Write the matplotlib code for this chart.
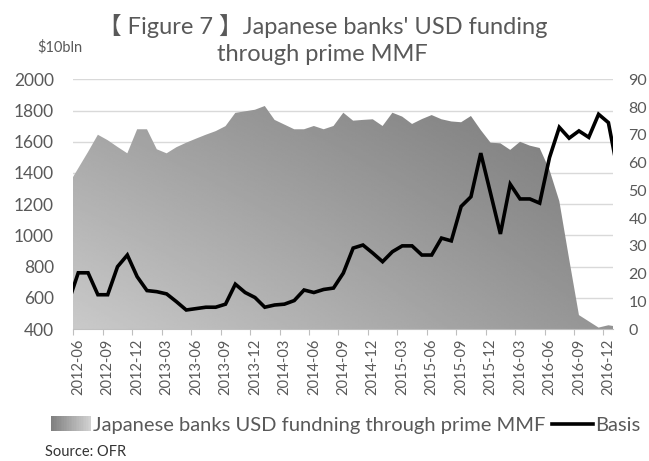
import numpy as np
import matplotlib.pyplot as plt
from matplotlib.legend_handler import HandlerBase
from matplotlib.patches import Rectangle, Patch
from matplotlib.lines import Line2D

plt.rcParams['font.family'] = ['Lato', 'Noto Sans CJK JP', 'DejaVu Sans']

# monthly values, 2012-05 .. 2017-01 (first and last month fall just outside the frame)
funding = [1325, 1430, 1535, 1645, 1610, 1567, 1526, 1680, 1680, 1552, 1526,
           1565, 1594, 1620, 1645, 1668, 1700, 1785, 1795, 1805, 1829, 1740,
           1710, 1680, 1680, 1701, 1680, 1701, 1786, 1735, 1740, 1744, 1701,
           1786, 1761, 1714, 1745, 1771, 1744, 1730, 1725, 1765, 1675, 1594,
           1590, 1548, 1600, 1575, 1560, 1420, 1220, 850, 490, 450, 410,
           425, 415]
basis = [9.7, 20.3, 20.3, 12.4, 12.4, 22.5, 26.7, 18.9, 13.9, 13.5, 12.7,
         9.9, 6.9, 7.4, 7.9, 7.9, 9.0, 16.2, 13.2, 11.4, 7.9, 8.7,
         9.0, 10.3, 14.1, 13.2, 14.3, 14.8, 20.2, 29.2, 30.3, 27.4, 24.3,
         27.9, 30.0, 30.0, 26.7, 26.7, 32.8, 31.8, 44.2, 47.7, 63.4, 48.9,
         34.3, 52.2, 46.9, 46.9, 45.4, 61.8, 72.7, 68.8, 71.4, 69.1, 77.4,
         74.4, 56.0]
tick_labels = ['2012-06', '2012-09', '2012-12', '2013-03', '2013-06', '2013-09',
               '2013-12', '2014-03', '2014-06', '2014-09', '2014-12', '2015-03',
               '2015-06', '2015-09', '2015-12', '2016-03', '2016-06', '2016-09',
               '2016-12']

GREY = '#595959'
x = np.arange(len(funding)) - 0.5   # month centres, category width 1
n_cat = len(funding) - 2

fig = plt.figure(figsize=(6.49, 4.61), dpi=100)
ax = fig.add_axes([0.113, 0.286, 0.832, 0.542])

# area with a grey gradient (light bottom-left, dark right)
poly = ax.fill_between(x, 400, funding, facecolor='none', edgecolor='none', zorder=2)
gx, gy = np.meshgrid(np.linspace(0, 1, 200), np.linspace(0, 1, 200))
shade = 0.79 - 0.21 * gx - 0.17 * gy + 0.05 * gx * gy
img = ax.imshow(shade, cmap='gray', vmin=0, vmax=1, origin='lower',
                extent=[0, n_cat, 400, 2000], aspect='auto', zorder=2,
                interpolation='bilinear')
img.set_clip_path(poly.get_paths()[0], transform=ax.transData)

ax.set_xlim(0, n_cat)
ax.set_ylim(400, 2000)
ax.set_yticks(np.arange(400, 2001, 200))
ax.yaxis.grid(True, color='#d9d9d9', lw=1)
ax.set_axisbelow(True)
for s in ['top', 'right', 'left']:
    ax.spines[s].set_visible(False)
ax.spines['bottom'].set_color('#bfbfbf')
ax.spines['bottom'].set_zorder(3)

# tick marks on category boundaries, labels at category centres
ax.set_xticks(np.arange(0, n_cat, 3))
ax.set_xticklabels([])
ax.tick_params(axis='x', which='major', length=4, color='#bfbfbf')
ax.set_xticks(np.arange(0, n_cat, 3) + 0.5, minor=True)
ax.set_xticklabels(tick_labels, minor=True, rotation=90, fontsize=10.5, color=GREY)
ax.tick_params(axis='x', which='minor', length=0, pad=7)
ax.tick_params(axis='y', length=0, pad=14, labelsize=12.5, labelcolor=GREY)

ax2 = ax.twinx()
ax2.plot(x, basis, color='black', lw=2.6, solid_joinstyle='miter', zorder=3)
ax2.set_ylim(0, 90)
ax2.set_yticks(np.arange(0, 91, 10))
ax2.tick_params(axis='y', length=0, pad=11, labelsize=11.5, labelcolor=GREY)
for s in ax2.spines.values():
    s.set_visible(False)
ax2.set_xlim(0, n_cat)

fig.text(0.497, 0.914, '【 Figure 7 】Japanese banks\' USD funding\nthrough prime MMF',
         ha='center', va='center', fontsize=17, color=GREY, linespacing=1.38)
fig.text(0.058, 0.898, '$10bln', ha='left', va='center', fontsize=10.5, color=GREY)


class GradientHandler(HandlerBase):
    def create_artists(self, legend, orig_handle, xd, yd, w, h, fontsize, trans):
        n = 24
        out = []
        for k in range(n):
            g = 0.5 + 0.32 * k / (n - 1)
            out.append(Rectangle((-xd + w * k / n, -yd), w / n * 1.05, h,
                                 facecolor=str(g), edgecolor='none', transform=trans))
        return out


handles = [Patch(), Line2D([], [], color='black', lw=2.6)]
fig.legend(handles, ['Japanese banks USD fundning through prime MMF', 'Basis'],
           handler_map={Patch: GradientHandler()}, loc='center',
           bbox_to_anchor=(0.532, 0.078), ncol=2, frameon=False,
           fontsize=14.5, handlelength=2.0, handletextpad=0.1,
           columnspacing=0.35, labelcolor=GREY)
fig.text(0.069, 0.02, 'Source: OFR', ha='left', va='center', fontsize=10.5, color='#333333')

fig.savefig('out.png', dpi=100)
